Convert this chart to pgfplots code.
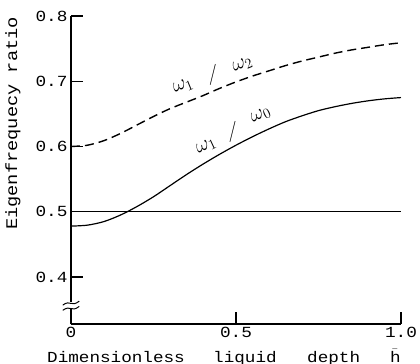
\documentclass[border=0pt]{standalone}
\usepackage{pgfplots}
\pgfplotsset{compat=1.18}
\usepackage{fontspec}
\setmainfont{Liberation Mono}[FakeStretch=1.15]
\begin{document}
\begin{tikzpicture}
\useasboundingbox (-71bp,-40bp) rectangle (349bp,324bp);
\begin{axis}[
  scale only axis, width=330bp, height=308bp,
  xmin=0, xmax=1, ymin=0.328, ymax=0.8,
  axis lines*=left, axis line style={line width=1.6pt},
  xtick={0,0.5,1}, xticklabels={0,0.5,1.0},
  ytick={0.4,0.5,0.6,0.7,0.8},
  yticklabels={0.4,0.5,0.6,0.7,0.8},
  tick style={line width=1.4pt, black},
  major tick length=12bp,
  tick align=inside,
  tick label style={font=\fontsize{15.5}{15.5}\selectfont},
  xticklabel style={yshift=-2bp, inner sep=1pt},
  clip=false,
]
\addplot[black, line width=1.2pt, smooth] coordinates {(0,0.478) (0.05,0.4795) (0.1,0.485) (0.15,0.495) (0.2,0.508) (0.25,0.523) (0.3,0.540) (0.35,0.557) (0.4,0.573) (0.45,0.588) (0.5,0.602) (0.55,0.615) (0.6,0.627) (0.65,0.638) (0.7,0.647) (0.75,0.655) (0.8,0.661) (0.85,0.666) (0.9,0.670) (0.95,0.673) (1.0,0.675)};
\addplot[black, line width=1.4pt, smooth, dash pattern=on 9bp off 5bp] coordinates {(0,0.600) (0.05,0.602) (0.1,0.609) (0.15,0.620) (0.2,0.633) (0.25,0.646) (0.3,0.658) (0.35,0.668) (0.4,0.678) (0.45,0.689) (0.5,0.699) (0.55,0.708) (0.6,0.716) (0.65,0.724) (0.7,0.731) (0.75,0.737) (0.8,0.743) (0.85,0.748) (0.9,0.752) (0.95,0.756) (1.0,0.759)};
\addplot[black, line width=0.7pt] coordinates {(0,0.5) (1,0.5)};
\begin{scope}[every node/.append style={inner sep=0pt}]
\node[rotate=22, font=\fontsize{20}{20}\selectfont] at (axis cs:0.34,0.692) {$\omega_1$};
\node[rotate=5, font=\fontsize{22}{22}\selectfont] at (axis cs:0.43,0.71) {$/$};
\node[rotate=22, font=\fontsize{20}{20}\selectfont] at (axis cs:0.52,0.725) {$\omega_2$};
\node[rotate=25, font=\fontsize{20}{20}\selectfont] at (axis cs:0.41,0.600) {$\omega_1$};
\node[rotate=5, font=\fontsize{22}{22}\selectfont] at (axis cs:0.49,0.623) {$/$};
\node[rotate=25, font=\fontsize{20}{20}\selectfont] at (axis cs:0.575,0.648) {$\omega_0$};
\end{scope}
\draw[line width=1.2pt, white] (axis cs:0,0.352) -- (axis cs:0,0.362);
\draw[line width=1pt] (axis cs:-0.025,0.349) .. controls (axis cs:0,0.358) and (axis cs:0,0.345) .. (axis cs:0.025,0.355);
\draw[line width=1pt] (axis cs:-0.025,0.357) .. controls (axis cs:0,0.366) and (axis cs:0,0.353) .. (axis cs:0.025,0.363);
\end{axis}
\node[rotate=90, font=\fontsize{16.3}{16.3}\selectfont] at (-58bp,200.5bp) {Eigenfrequecy ratio};
\begin{scope}[every node/.style={anchor=base west, inner sep=0pt, font=\fontsize{15.4}{15.4}\selectfont}]
\node at (-24bp,-38bp) {Dimensionless};
\node at (142bp,-38bp) {liquid};
\node at (236bp,-38bp) {depth};
\node at (319bp,-38bp) {$\bar{\mathrm{h}}$};
\end{scope}
\end{tikzpicture}
\end{document}
